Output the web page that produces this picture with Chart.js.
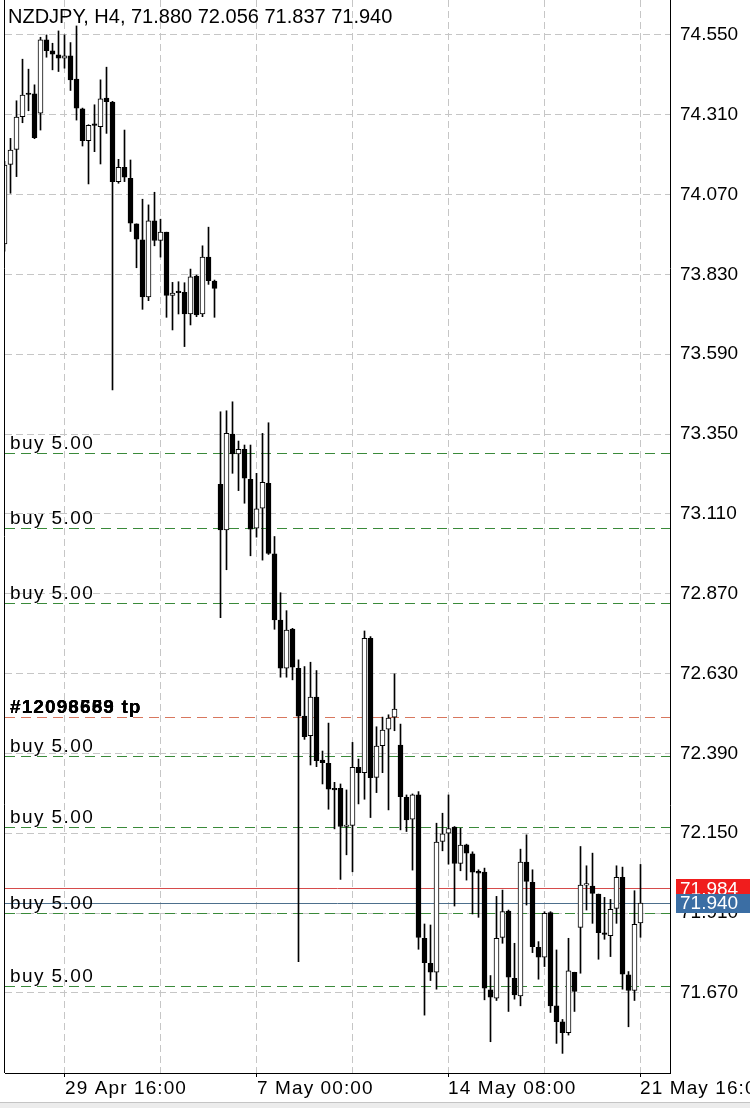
<!DOCTYPE html>
<html><head><meta charset="utf-8">
<style>
html,body{margin:0;padding:0;background:#fff;}
#wrap{width:750px;height:1102px;position:relative;}
#strip{width:750px;height:5px;background:#ececec;border-top:1px solid #c4c4c4;}
</style>
<script src="https://cdn.jsdelivr.net/npm/chart.js@4.4.1/dist/chart.umd.min.js"></script>
</head><body>
<div id="wrap"><canvas id="c" width="750" height="1102"></canvas></div>
<div id="strip"></div>
<script>
const symbol = 'NZDJPY';
const period = 'H4';
const opens = [73.922,74.161,74.206,74.304,74.375,74.373,74.315,74.535,74.502,74.490,
74.480,74.487,74.417,74.328,74.232,74.280,74.274,74.360,74.348,74.109,
74.152,74.119,73.982,73.934,73.762,73.991,73.932,73.957,73.767,73.776,
73.776,73.711,73.825,73.711,73.882,73.810,73.199,73.062,73.350,73.290,
73.304,73.214,73.067,73.127,73.202,72.990,72.791,72.646,72.764,72.646,
72.502,72.443,72.559,72.370,72.360,72.285,72.285,72.170,72.173,72.348,
72.332,72.736,72.318,72.413,72.463,72.499,72.415,72.258,72.192,72.265,
71.834,71.759,71.732,72.125,72.150,72.168,72.059,72.115,72.088,72.035,
72.033,71.679,71.654,71.837,71.916,71.714,71.661,72.063,72.002,71.807,
71.777,71.911,71.631,71.583,71.550,71.732,71.867,71.994,71.991,71.967,
71.849,71.842,71.924,72.017,71.724,71.677,71.880];
const highs = [74.170,74.239,74.352,74.477,74.447,74.400,74.543,74.550,74.525,74.562,
74.550,74.527,74.577,74.330,74.280,74.340,74.415,74.453,74.350,74.176,
74.264,74.174,73.982,74.056,74.039,74.077,73.996,73.957,73.806,73.808,
73.805,73.846,73.828,73.916,73.972,73.813,73.417,73.420,73.447,73.329,
73.317,73.317,73.232,73.352,73.384,73.042,72.873,72.819,72.766,72.671,
72.651,72.664,72.639,72.397,72.481,72.303,72.298,72.280,72.423,72.373,
72.758,72.741,72.470,72.499,72.506,72.629,72.478,72.265,72.268,72.275,
71.877,71.874,72.180,72.210,72.265,72.170,72.165,72.117,72.094,72.040,
72.045,71.722,71.960,71.979,71.919,71.819,72.102,72.145,72.040,71.824,
71.914,71.914,71.799,71.590,71.834,71.732,72.110,72.052,72.090,71.967,
71.957,71.951,72.052,72.048,71.734,71.977,72.056];
const lows = [73.900,74.074,74.124,74.286,74.322,74.238,74.264,74.483,74.445,74.440,
74.450,74.383,74.294,74.216,74.102,74.199,74.162,74.254,73.483,74.104,
74.109,73.959,73.850,73.725,73.751,73.916,73.882,73.701,73.663,73.711,
73.613,73.678,73.703,73.703,73.800,73.701,72.798,72.942,73.232,73.180,
73.142,72.984,73.040,72.971,72.988,72.763,72.619,72.619,72.611,71.764,
72.432,72.355,72.350,72.298,72.222,72.163,72.011,72.085,72.034,72.238,
72.252,72.197,72.272,72.332,72.220,72.458,72.160,72.155,72.039,71.801,
71.603,71.707,71.681,72.097,72.057,71.931,72.037,72.009,71.907,71.897,
71.649,71.523,71.647,71.819,71.614,71.651,71.631,71.934,71.791,71.711,
71.749,71.611,71.518,71.488,71.543,71.614,71.729,71.919,71.879,71.771,
71.831,71.779,71.879,71.681,71.568,71.647,71.837];
const closes = [74.159,74.204,74.303,74.369,74.371,74.241,74.535,74.503,74.492,74.480,
74.487,74.415,74.330,74.232,74.278,74.278,74.358,74.349,74.109,74.152,
74.122,73.984,73.936,73.762,73.991,73.932,73.957,73.767,73.774,73.775,
73.711,73.823,73.708,73.882,73.811,73.788,73.062,73.352,73.290,73.304,
73.217,73.064,73.125,73.205,72.991,72.791,72.646,72.761,72.649,72.502,
72.440,72.559,72.368,72.362,72.282,72.280,72.170,72.172,72.348,72.332,
72.736,72.317,72.412,72.460,72.496,72.523,72.260,72.190,72.265,71.837,
71.761,71.732,72.123,72.148,72.164,72.059,72.114,72.090,72.033,72.030,
71.684,71.657,71.834,71.914,71.717,71.664,72.063,72.005,71.809,71.777,
71.909,71.631,71.583,71.550,71.736,71.674,71.994,71.996,71.969,71.851,
71.846,71.921,72.017,71.726,71.677,71.876,71.940];

const priceTicks = [71.670,71.910,72.150,72.390,72.630,72.870,73.110,73.350,73.590,73.830,74.070,74.310,74.550];
const gridIdx = [10,26,42,58,74,90,106];
const tickIdx = [10,42,74,106];
const tickLabels = ['29 Apr 16:00','7 May 00:00','14 May 08:00','21 May 16:00'];
const buyLevels = [73.292,73.069,72.843,72.382,72.170,71.911,71.691];
const buyLabel = 'buy 5.00';
const tpLevel = 72.499;
const tpIds = ['12093669','12096683','12098559'];
const askPrice = 71.984;
const bidPrice = 71.940;

const FONT = 'Liberation Sans, Arial, sans-serif';
const idx = opens.map((_, i) => i);
const wickData = idx.map(i => ({x: i, y: [lows[i], highs[i]]}));
const bodyData = idx.map(i => ({x: i, y: [opens[i], closes[i]]}));

const overlay = {
  id: 'overlay',
  beforeDatasetsDraw(chart) {
    const {ctx, chartArea: a} = chart;
    const y = chart.scales.y;
    const hline = (p, color, dash) => {
      const py = Math.round(y.getPixelForValue(p)) + 0.5;
      ctx.strokeStyle = color; ctx.setLineDash(dash);
      ctx.beginPath(); ctx.moveTo(a.left, py); ctx.lineTo(a.right, py); ctx.stroke();
    };
    ctx.save();
    ctx.lineWidth = 1;
    buyLevels.forEach(p => hline(p, '#3a8a3a', [10, 6]));
    hline(tpLevel, '#d8775e', [10, 6]);
    hline(askPrice, '#d64b4b', []);
    hline(bidPrice, '#4d6f8c', []);
    ctx.restore();
  },
  afterDatasetsDraw(chart) {
    const {ctx, chartArea: a} = chart;
    const y = chart.scales.y;
    const x = chart.scales.x;
    ctx.save();
    ctx.fillStyle = '#000'; ctx.textAlign = 'left'; ctx.textBaseline = 'alphabetic';
    ctx.font = '19px ' + FONT;
    ctx.letterSpacing = '1.4px';
    buyLevels.forEach(p => ctx.fillText(buyLabel, a.left + 5, y.getPixelForValue(p) - 4));
    ctx.font = 'bold 19px ' + FONT;
    ctx.letterSpacing = '1.1px';
    tpIds.forEach(id => ctx.fillText('#' + id + ' tp', a.left + 5, y.getPixelForValue(tpLevel) - 4));
    ctx.font = '19px ' + FONT;
    ctx.letterSpacing = '1.1px';
    tickIdx.forEach((v, k) => ctx.fillText(tickLabels[k], Math.round(x.getPixelForValue(v)), a.bottom + 21));
    ctx.letterSpacing = '0px';
    ctx.strokeStyle = '#000'; ctx.lineWidth = 1;
    ctx.beginPath(); ctx.moveTo(a.left - 0.5, a.top); ctx.lineTo(a.left - 0.5, a.bottom); ctx.stroke();
    ctx.restore();
  },
  afterDraw(chart) {
    const {ctx, chartArea: a} = chart;
    const y = chart.scales.y;
    const n = opens.length - 1;
    ctx.save();
    ctx.fillStyle = '#000'; ctx.textAlign = 'left'; ctx.textBaseline = 'alphabetic';
    ctx.font = '20px ' + FONT;
    const title = symbol + ', ' + period + ', ' + [opens[n], highs[n], lows[n], closes[n]].map(v => v.toFixed(3)).join(' ');
    ctx.fillText(title, a.left + 3, 23);
    const box = (p, bg) => {
      const py = y.getPixelForValue(p);
      ctx.fillStyle = bg;
      ctx.fillRect(a.right + 6, Math.round(py) - 9, chart.width - a.right - 6, 19);
      ctx.fillStyle = '#fff'; ctx.textBaseline = 'middle'; ctx.font = '19px ' + FONT;
      ctx.fillText(p.toFixed(3), a.right + 10, py + 1);
    };
    box(askPrice, '#f01d1d');
    box(bidPrice, '#3b6ea4');
    ctx.restore();
  }
};

new Chart(document.getElementById('c'), {
  type: 'bar',
  data: {
    datasets: [
      {label: 'wick', data: wickData, backgroundColor: '#000', borderWidth: 0, barThickness: 1, grouped: false, order: 2},
      {label: 'body', data: bodyData, grouped: false, order: 1, barThickness: 5, minBarLength: 1.5,
       borderWidth: 1, borderColor: '#000', borderSkipped: false,
       backgroundColor: c => (closes[c.dataIndex] >= opens[c.dataIndex] ? '#fff' : '#000')}
    ]
  },
  options: {
    responsive: false, maintainAspectRatio: false, animation: false,
    layout: {padding: {left: 5, top: 0, right: 0, bottom: 0}},
    plugins: {legend: {display: false}, tooltip: {enabled: false}},
    scales: {
      x: {
        type: 'linear', bounds: 'data', offset: false, min: 0.083, max: 110.917,
        afterBuildTicks: s => { s.ticks = gridIdx.map(v => ({value: v})); },
        afterFit: s => { s.height = 29; s.paddingLeft = 0; s.paddingRight = 0; },
        ticks: {autoSkip: false, maxRotation: 0, minRotation: 0, padding: 3, color: '#000',
          font: {family: FONT, size: 19}, callback: () => ''},
        grid: {offset: false, color: '#c6c6c6', lineWidth: 1, tickLength: 4,
          tickColor: c => (c.tick && tickIdx.includes(c.tick.value) ? '#000' : 'rgba(0,0,0,0)')},
        border: {display: true, color: '#000', width: 1, dash: [7, 4]}
      },
      y: {
        position: 'right', bounds: 'data', min: 71.429, max: 74.655,
        afterBuildTicks: s => { s.ticks = priceTicks.map(v => ({value: v})); },
        afterFit: s => { s.width = 80; s.paddingTop = 0; s.paddingBottom = 0; },
        ticks: {padding: 10, color: '#000', font: {family: FONT, size: 19}, callback: v => v.toFixed(3)},
        grid: {color: '#c6c6c6', lineWidth: 1, drawTicks: false},
        border: {display: true, color: '#000', width: 1, dash: [7, 4]}
      }
    }
  },
  plugins: [overlay]
});
</script>
</body></html>
